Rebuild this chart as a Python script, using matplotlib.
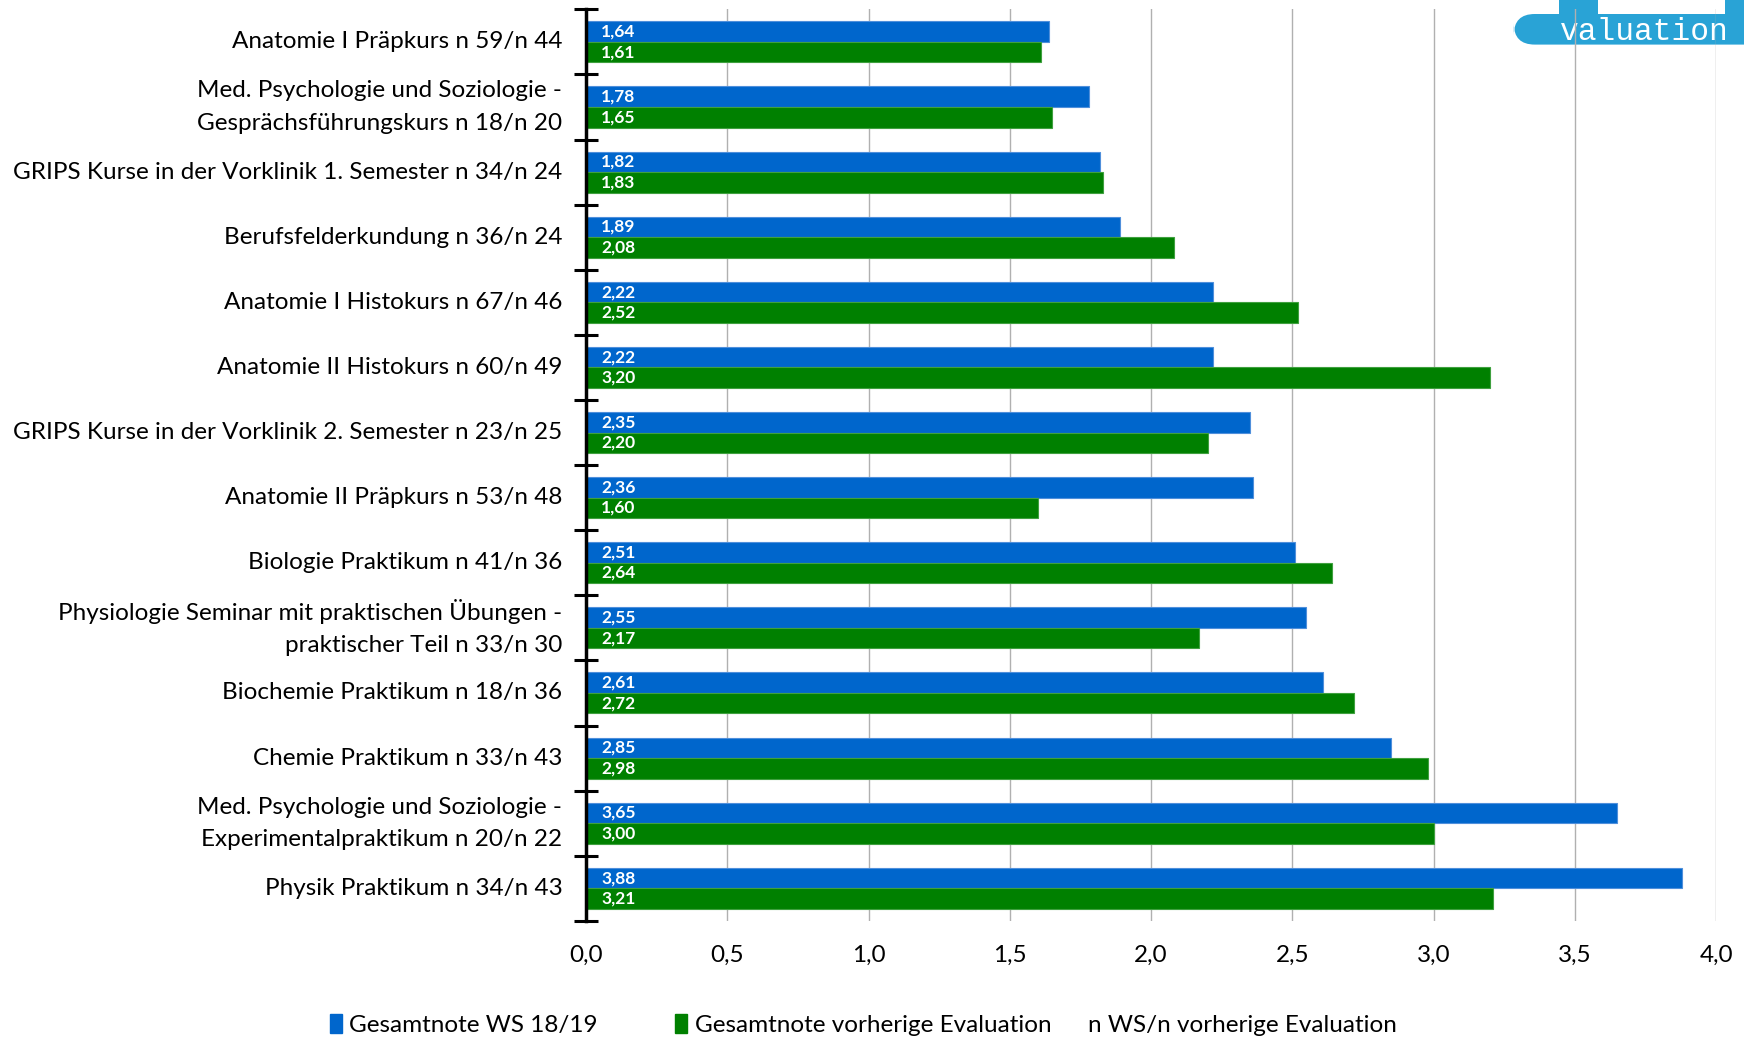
import numpy as np
import matplotlib
matplotlib.use("Agg")
import matplotlib.pyplot as plt
from matplotlib.patches import Patch, FancyBboxPatch, Rectangle

plt.rcParams['font.family'] = ['Lato', 'DejaVu Sans']

# data, top to bottom
kurse = [
    "Anatomie I Präpkurs n 59/n 44",
    "Med. Psychologie und Soziologie -\nGesprächsführungskurs n 18/n 20",
    "GRIPS Kurse in der Vorklinik 1. Semester n 34/n 24",
    "Berufsfelderkundung n 36/n 24",
    "Anatomie I Histokurs n 67/n 46",
    "Anatomie II Histokurs n 60/n 49",
    "GRIPS Kurse in der Vorklinik 2. Semester n 23/n 25",
    "Anatomie II Präpkurs n 53/n 48",
    "Biologie Praktikum n 41/n 36",
    "Physiologie Seminar mit praktischen Übungen -\npraktischer Teil n 33/n 30",
    "Biochemie Praktikum n 18/n 36",
    "Chemie Praktikum n 33/n 43",
    "Med. Psychologie und Soziologie -\nExperimentalpraktikum n 20/n 22",
    "Physik Praktikum n 34/n 43",
]
note_ws = [1.64, 1.78, 1.82, 1.89, 2.22, 2.22, 2.35, 2.36, 2.51, 2.55, 2.61, 2.85, 3.65, 3.88]
note_vorher = [1.61, 1.65, 1.83, 2.08, 2.52, 3.20, 2.20, 1.60, 2.64, 2.17, 2.72, 2.98, 3.00, 3.21]
xticks = [0.0, 0.5, 1.0, 1.5, 2.0, 2.5, 3.0, 3.5, 4.0]

blau = '#0066CC'
gruen = '#008000'

fig = plt.figure(figsize=(17.44, 10.37), dpi=100)
ax = fig.add_axes([0.336, 0.112, 0.648, 0.879])
ax.patch.set_alpha(0)

# logo top right (drawn below the axes)
fig.patches.append(FancyBboxPatch((0.868, 0.957), 0.2, 0.0295, boxstyle="round,pad=0,rounding_size=0.012",
                                  transform=fig.transFigure, fc='#29A3D6', ec='none', zorder=-5,
                                  mutation_aspect=1.68))
fig.patches.append(Rectangle((0.894, 0.98), 0.022, 0.02, transform=fig.transFigure,
                             fc='#29A3D6', ec='none', zorder=-5))
fig.patches.append(Rectangle((0.989, 0.98), 0.011, 0.02, transform=fig.transFigure,
                             fc='#29A3D6', ec='none', zorder=-5))
fig.text(0.943, 0.9695, "valuation", family='Liberation Mono', fontsize=22.5, color='white',
         ha='center', va='center', zorder=-4)

y = np.arange(len(kurse))
h = 0.315
ax.barh(y - h / 2, note_ws, height=h, color=blau, edgecolor='#4F8FDB', linewidth=0.8, zorder=3)
ax.barh(y + h / 2, note_vorher, height=h, color=gruen, edgecolor='#3FA03F', linewidth=0.8, zorder=3)

for i in range(len(kurse)):
    ax.annotate(f"{note_ws[i]:.2f}".replace('.', ','), (0, y[i] - h / 2), xytext=(11, 0),
                textcoords='offset points', color='white', fontsize=12.5, fontweight='bold',
                va='center', ha='left', zorder=4)
    ax.annotate(f"{note_vorher[i]:.2f}".replace('.', ','), (0, y[i] + h / 2), xytext=(11, 0),
                textcoords='offset points', color='white', fontsize=12.5, fontweight='bold',
                va='center', ha='left', zorder=4)

ax.set_xlim(0, 4.0)
ax.set_ylim(len(kurse) - 0.5, -0.5)
ax.set_xticks(xticks)
ax.set_xticklabels([f"{t:.1f}".replace('.', ',') for t in xticks], fontsize=17.5)
ax.tick_params(axis='x', length=0, pad=17)
ax.grid(axis='x', color='#B0B0B0', linewidth=1, zorder=0)

ax.set_yticks(y)
ax.set_yticklabels(kurse, fontsize=17.5, linespacing=1.65, va='center')
ax.set_yticks(np.arange(len(kurse) + 1) - 0.5, minor=True)
ax.tick_params(axis='y', which='major', length=0, pad=17)
ax.tick_params(axis='y', which='minor', direction='inout', length=17, width=2.2, color='black')

for s in ['top', 'right', 'bottom']:
    ax.spines[s].set_visible(False)
ax.spines['left'].set_linewidth(2.5)
ax.spines['left'].set_zorder(5)

leg = fig.legend(handles=[Patch(color=blau, label='Gesamtnote WS 18/19'),
                          Patch(color=gruen, label='Gesamtnote vorherige Evaluation')],
                 loc='center left', bbox_to_anchor=(0.189, 0.0115), ncol=2, frameon=False,
                 fontsize=17.5, handlelength=0.5, handleheight=0.8, handletextpad=0.3,
                 columnspacing=3.2, borderpad=0, borderaxespad=0)
fig.text(0.624, 0.0115, "n WS/n vorherige Evaluation", fontsize=17.5, ha='left', va='center')

fig.savefig('out.png', dpi=100)
